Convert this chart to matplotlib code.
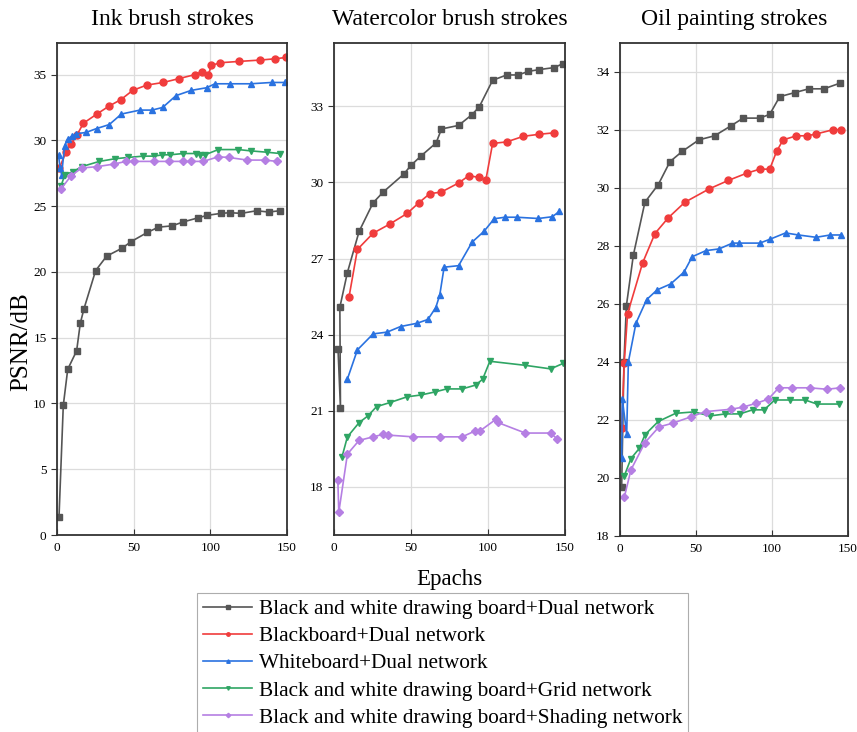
import matplotlib
matplotlib.use("Agg")
import matplotlib.pyplot as plt

plt.rcParams['font.family'] = 'serif'
plt.rcParams['font.serif'] = ['Liberation Serif', 'DejaVu Serif']

labels = ['Black and white drawing board+Dual network',
          'Blackboard+Dual network',
          'Whiteboard+Dual network',
          'Black and white drawing board+Grid network',
          'Black and white drawing board+Shading network']
titles = ['Ink brush strokes', 'Watercolor brush strokes', 'Oil painting strokes']

# ---- Ink brush strokes
ink_bw_dual_x = [1.3, 4.1, 7.0, 12.8, 15.2, 17.6, 25.2, 32.4, 42.4, 48.3, 58.9, 66.1, 75, 82.4, 91.7, 98, 107, 112.8, 120.2, 130.2, 138, 145.4]
ink_bw_dual_y = [1.35, 9.85, 12.6, 14.0, 16.1, 17.2, 20.1, 21.2, 21.8, 22.3, 23.0, 23.4, 23.5, 23.8, 24.1, 24.3, 24.45, 24.5, 24.45, 24.65, 24.55, 24.65]
ink_black_x = [1.5, 5.9, 9.3, 13.0, 17.2, 26, 33.9, 41.7, 49.4, 58.5, 69.3, 79.8, 90, 94.3, 98.7, 100.7, 106.5, 118.7, 132.2, 142.2, 149.3]
ink_black_y = [27.9, 29.1, 29.75, 30.4, 31.3, 32.0, 32.6, 33.1, 33.8, 34.2, 34.4, 34.7, 35.0, 35.2, 35.0, 35.7, 35.9, 36.0, 36.1, 36.2, 36.3]
ink_white_x = [1, 2, 3, 5, 7, 9.5, 12.5, 18.9, 25.9, 34.1, 42, 54.1, 62, 68.9, 77.6, 87.6, 97.6, 103, 112.8, 126.3, 140, 148.7]
ink_white_y = [28.9, 27.9, 27.4, 29.6, 30.1, 30.3, 30.5, 30.6, 30.9, 31.2, 32.0, 32.3, 32.3, 32.5, 33.4, 33.8, 34.0, 34.3, 34.3, 34.3, 34.4, 34.4]
ink_grid_x = [2.5, 5.2, 10.2, 16.1, 27.6, 37.8, 46.1, 56.3, 63.3, 68.7, 73.7, 82.4, 90.7, 93.3, 96.5, 105.2, 118.3, 126.3, 136.7, 145.4]
ink_grid_y = [26.5, 27.4, 27.6, 28.0, 28.4, 28.6, 28.7, 28.8, 28.8, 28.9, 28.9, 29.0, 29.0, 28.9, 28.9, 29.3, 29.3, 29.2, 29.1, 29.0]
ink_shade_x = [2.6, 9.1, 16.1, 26.3, 37.2, 45, 50.4, 63.5, 73, 82, 87.6, 95.4, 105.2, 112, 124.1, 135.7, 143.3]
ink_shade_y = [26.3, 27.3, 27.9, 28.0, 28.2, 28.4, 28.4, 28.4, 28.4, 28.4, 28.4, 28.4, 28.75, 28.7, 28.5, 28.5, 28.4]

# ---- Watercolor brush strokes
wc_bw_dual_x = [2.6, 4.2, 3.8, 8.7, 16.3, 25.4, 31.9, 45.3, 49.9, 56.4, 66.3, 69.8, 80.9, 89.5, 94.3, 103, 112.1, 119.7, 126.1, 133.1, 142.9, 148.5]
wc_bw_dual_y = [23.45, 21.1, 25.08, 26.45, 28.07, 29.2, 29.62, 30.33, 30.67, 31.04, 31.56, 32.11, 32.25, 32.67, 32.98, 34.03, 34.24, 34.24, 34.38, 34.45, 34.53, 34.68]
wc_black_x = [9.8, 15.2, 25.4, 36.2, 47.5, 55.1, 62.2, 69.6, 80.9, 87.6, 94.1, 98.6, 103, 112.1, 122.9, 133.1, 143.1]
wc_black_y = [25.5, 27.36, 28.0, 28.36, 28.78, 29.2, 29.56, 29.62, 29.98, 30.27, 30.2, 30.1, 31.54, 31.6, 31.82, 31.9, 31.96]
wc_white_x = [8.7, 15.2, 25.4, 34.5, 43.2, 54, 61, 66.1, 68.7, 71.5, 80.9, 89.7, 97.5, 104, 111, 118.6, 132.7, 141.8, 146.3]
wc_white_y = [22.25, 23.4, 24.03, 24.1, 24.32, 24.45, 24.6, 25.07, 25.57, 26.66, 26.72, 27.65, 28.08, 28.57, 28.63, 28.63, 28.58, 28.65, 28.86]
wc_grid_x = [5.2, 8.7, 16.3, 22.1, 27.6, 36.2, 47.5, 56.4, 65.5, 73.1, 83.2, 91.9, 96.5, 101.2, 124.2, 140.7, 148.9]
wc_grid_y = [19.18, 19.97, 20.53, 20.8, 21.16, 21.32, 21.55, 21.62, 21.74, 21.86, 21.86, 22.01, 22.24, 22.95, 22.79, 22.65, 22.87]
wc_shade_x = [2.5, 3.1, 8.7, 16.3, 25.4, 31.9, 35.1, 51.4, 68.7, 83.2, 91.5, 94.7, 105.1, 106.2, 124.2, 140.7, 145]
wc_shade_y = [18.26, 16.99, 19.29, 19.83, 19.97, 20.07, 20.04, 19.97, 19.97, 19.97, 20.2, 20.2, 20.66, 20.54, 20.12, 20.12, 19.88]

# ---- Oil painting strokes
oil_bw_dual_x = [1.1, 2.6, 4.2, 8.8, 16.4, 25.2, 32.9, 40.9, 51.9, 62.2, 72.9, 81, 92, 98.5, 105.1, 115, 124.2, 134.2, 145]
oil_bw_dual_y = [19.7, 24.0, 25.94, 27.69, 29.51, 30.12, 30.91, 31.26, 31.66, 31.8, 32.14, 32.41, 32.41, 32.54, 33.15, 33.29, 33.42, 33.42, 33.62]
oil_black_x = [1.1, 2.8, 5.0, 14.9, 23, 31.7, 42.7, 58.7, 71.2, 83.3, 92, 98.5, 103, 107.3, 116.1, 123.1, 128.8, 140.2, 145.2]
oil_black_y = [21.72, 23.98, 25.67, 27.42, 28.43, 28.97, 29.51, 29.97, 30.26, 30.51, 30.65, 30.65, 31.26, 31.66, 31.8, 31.8, 31.86, 32.01, 32.01]
oil_white_x = [1.1, 1.5, 4.4, 5.5, 10.5, 17.5, 24.5, 33.3, 42.1, 47.5, 56.5, 65.2, 74, 78.4, 92, 99, 108.9, 117.4, 129, 138.4, 145.2]
oil_white_y = [20.68, 22.74, 21.51, 24.0, 25.34, 26.15, 26.49, 26.69, 27.1, 27.63, 27.84, 27.9, 28.1, 28.1, 28.1, 28.24, 28.45, 28.38, 28.3, 28.38, 28.38]
oil_grid_x = [2.8, 7.2, 12.7, 16.4, 25.2, 36.6, 48.8, 59.1, 69.4, 78.8, 87.2, 94.8, 101.8, 111.7, 121.8, 129.6, 144.1]
oil_grid_y = [20.07, 20.67, 21.02, 21.49, 21.95, 22.23, 22.28, 22.14, 22.21, 22.21, 22.35, 22.35, 22.69, 22.69, 22.69, 22.55, 22.55]
oil_shade_x = [2.8, 7.2, 16.4, 25.6, 34.6, 46.7, 56.3, 72.9, 80.6, 89.8, 97.5, 104.5, 113, 124.8, 136.2, 145]
oil_shade_y = [19.33, 20.28, 21.22, 21.76, 21.89, 22.11, 22.29, 22.37, 22.44, 22.58, 22.72, 23.11, 23.11, 23.11, 23.06, 23.11]

panels = [
    [(ink_bw_dual_x, ink_bw_dual_y), (ink_black_x, ink_black_y), (ink_white_x, ink_white_y),
     (ink_grid_x, ink_grid_y), (ink_shade_x, ink_shade_y)],
    [(wc_bw_dual_x, wc_bw_dual_y), (wc_black_x, wc_black_y), (wc_white_x, wc_white_y),
     (wc_grid_x, wc_grid_y), (wc_shade_x, wc_shade_y)],
    [(oil_bw_dual_x, oil_bw_dual_y), (oil_black_x, oil_black_y), (oil_white_x, oil_white_y),
     (oil_grid_x, oil_grid_y), (oil_shade_x, oil_shade_y)],
]

colors = ['#555555', '#f03c3c', '#2a72e0', '#2fa564', '#b57fe3']
markers = ['s', 'o', '^', 'v', 'D']
msizes = [4.5, 5, 5, 5, 4.5]

W, H = 857, 732
# axes boxes in pixels: left, right, top, bottom
boxes = [(57, 287, 43, 535), (334, 565, 43, 535), (620, 848, 43, 536)]
ylims = [(0, 37.4), (16.1, 35.5), (18, 35)]
yticks = [range(0, 36, 5), range(18, 34, 3), range(18, 35, 2)]

fig = plt.figure(figsize=(W / 100, H / 100), dpi=100)

handles = []
for i, (l, r, t, b) in enumerate(boxes):
    ax = fig.add_axes([l / W, (H - b) / H, (r - l) / W, (b - t) / H])
    for j, (xs, ys) in enumerate(panels[i]):
        line, = ax.plot(xs, ys, color=colors[j], marker=markers[j], ms=msizes[j],
                        lw=1.2, mec=colors[j], mfc=colors[j])
        if i == 0:
            handles.append(line)
    ax.set_xlim(0, 150)
    ax.set_xticks([0, 50, 100, 150])
    ax.set_ylim(*ylims[i])
    ax.set_yticks(list(yticks[i]))
    ax.grid(True, color='#dcdcdc', lw=0.9)
    ax.set_axisbelow(True)
    for s in ax.spines.values():
        s.set_color('#333333')
        s.set_linewidth(1.3)
    ax.tick_params(axis='x', direction='in', length=4, labelsize=9.5, pad=5, color='#333333')
    ax.tick_params(axis='y', direction='out', length=4, labelsize=9.5, color='#333333')
    ax.set_title(titles[i], fontsize=17, pad=13)

fig.text(21 / W, 1 - 342 / H, 'PSNR/dB', rotation=90, fontsize=18, ha='center', va='center')
fig.text(449 / W, 1 - 580 / H, 'Epachs', fontsize=16.5, ha='center', va='center')

leg = fig.legend(handles, labels, loc='upper left', bbox_to_anchor=(197 / W, 1 - 593 / H),
                 fontsize=15.3, frameon=True, fancybox=False, edgecolor='#999999',
                 handlelength=2.3, handletextpad=0.3, labelspacing=0.34, borderpad=0.3,
                 markerscale=0.5, borderaxespad=0)
leg.get_frame().set_linewidth(0.8)

fig.savefig('out.png', dpi=100)
